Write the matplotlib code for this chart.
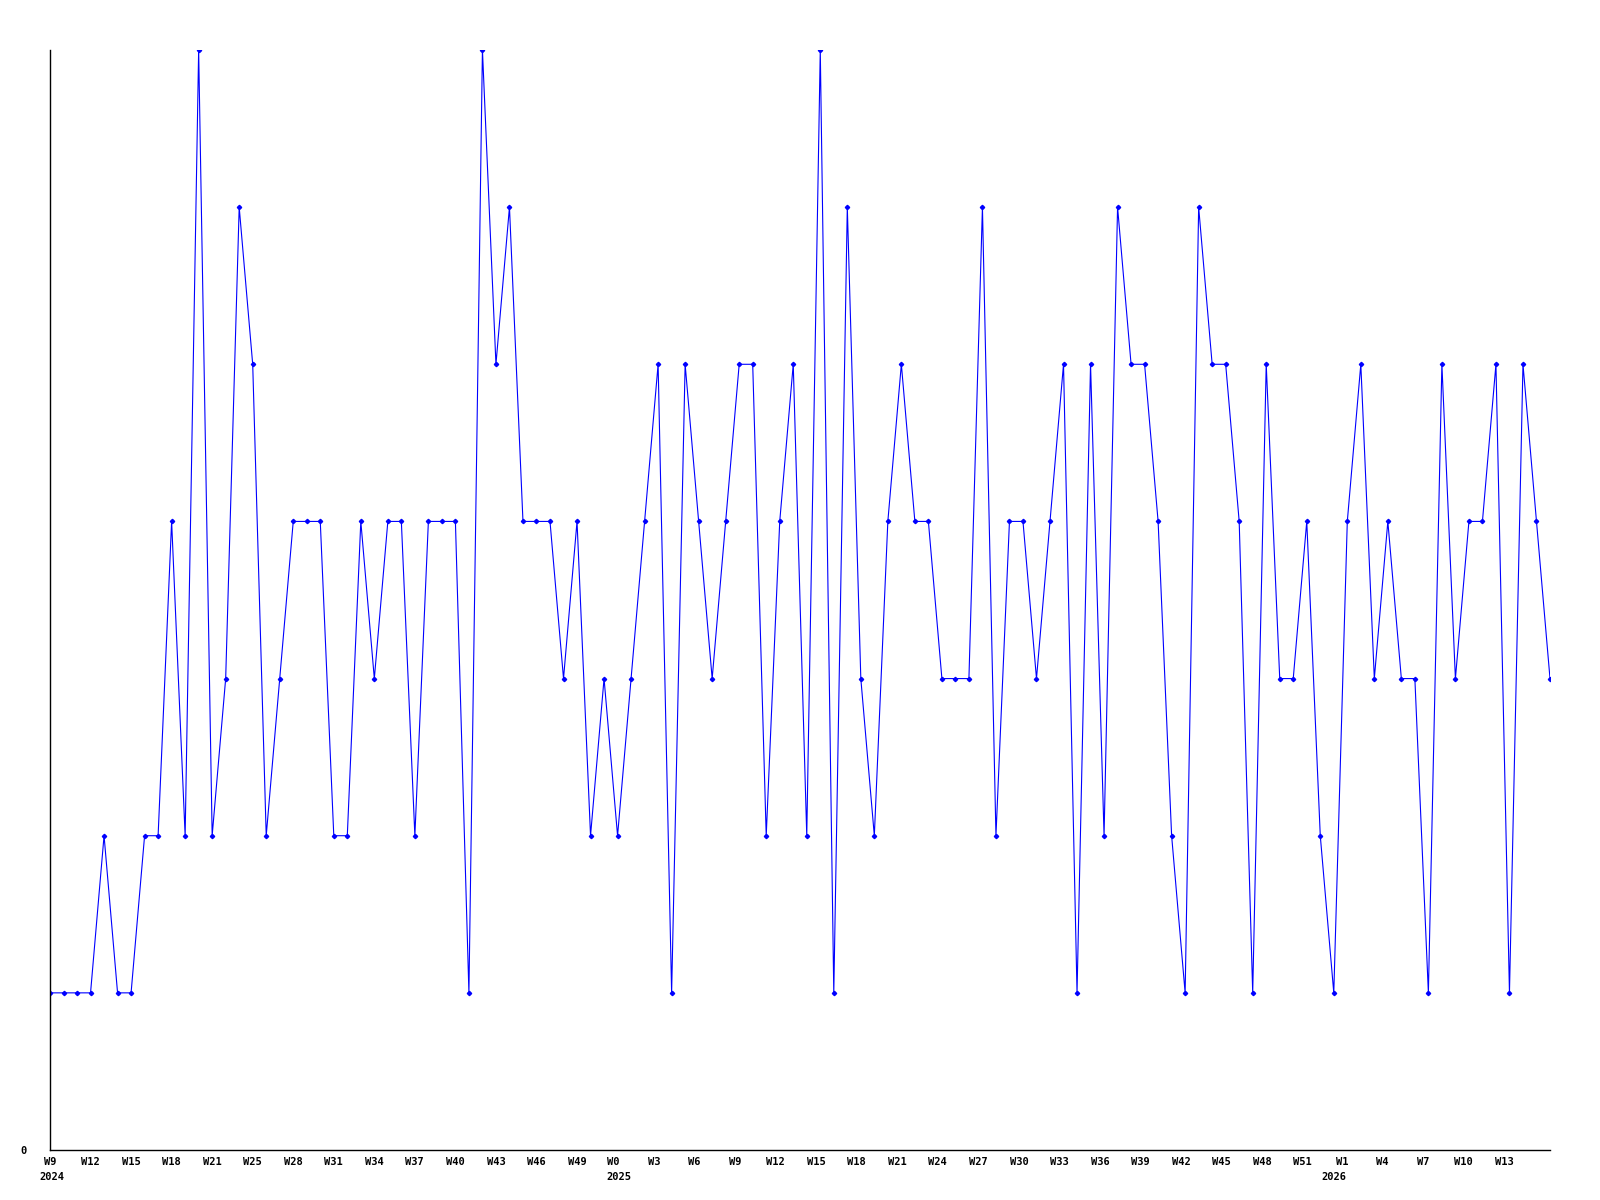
import matplotlib
matplotlib.use('Agg')
import matplotlib.pyplot as plt
import matplotlib.transforms as mtransforms
import numpy as np

# weekly values, one point per week starting at W9 2024
values = [1, 1, 1, 1, 2, 1, 1, 2, 2, 4, 2, 7, 2,
          3, 6, 5, 2, 3, 4, 4, 4, 2, 2, 4, 3, 4, 4, 2,
          4, 4, 4, 1, 7, 5, 6, 4, 4, 4, 3, 4, 2, 3, 2,
          3, 4, 5, 1, 5, 4, 3, 4, 5, 5, 2, 4, 5, 2, 7,
          1, 6, 3, 2, 4, 5, 4, 4, 3, 3, 3, 6, 2, 4,
          4, 3, 4, 5, 1, 5, 2, 6, 5, 5, 4, 2, 1, 6, 5,
          5, 4, 1, 5, 3, 3, 4, 2, 1, 4, 5, 3, 4, 3, 3,
          1, 5, 3, 4, 4, 5, 1, 5, 4, 3]

# week tick labels and where they sit (in week-index units)
tick_labels = ['W9', 'W12', 'W15', 'W18', 'W21', 'W25', 'W28', 'W31', 'W34',
               'W37', 'W40', 'W43', 'W46', 'W49',
               'W0', 'W3', 'W6', 'W9', 'W12', 'W15', 'W18', 'W21', 'W24',
               'W27', 'W30', 'W33', 'W36', 'W39', 'W42', 'W45', 'W48', 'W51',
               'W1', 'W4', 'W7', 'W10', 'W13']
tick_pos = [0, 3, 6, 9, 12, 15, 18, 21, 24, 27, 30, 33, 36, 39,
            41.7, 44.7, 47.7, 50.7, 53.7, 56.7, 59.7, 62.7, 65.7,
            68.7, 71.7, 74.7, 77.7, 80.7, 83.7, 86.7, 89.7, 92.7,
            95.6, 98.6, 101.6, 104.6, 107.6]

# year labels (left edge, week-index units)
years = ['2024', '2025', '2026']
year_pos = [-0.75, 41.15, 94.05]

x = np.arange(len(values))

fig = plt.figure(figsize=(16, 12), dpi=100)
ax = fig.add_axes([50 / 1600, 1 - 1150 / 1200, 1500 / 1600, 1100 / 1200])

ax.plot(x, values, color='#0000ff', lw=0.8, marker='D', ms=2.2,
        mec='#0000ff', mfc='#0000ff')

ax.set_xlim(0, len(values) - 1)
ax.set_ylim(0, 7)

font = dict(family='DejaVu Sans Mono', weight='bold', size=7.5)

ax.set_xticks(tick_pos)
ax.set_xticklabels(tick_labels, **font)
ax.set_yticks([0])
ax.set_yticklabels(['0'], **font)
ax.tick_params(axis='x', length=0, pad=5)
ax.tick_params(axis='y', length=0, pad=17)

for sp in ['top', 'right']:
    ax.spines[sp].set_visible(False)
for sp in ['left', 'bottom']:
    ax.spines[sp].set_linewidth(1.0)
    ax.spines[sp].set_color('black')

blend = mtransforms.blended_transform_factory(ax.transData, ax.transAxes)
tr = mtransforms.offset_copy(blend, fig=fig, x=0, y=-16, units='points')
for yr, xp in zip(years, year_pos):
    ax.text(xp, 0, yr, transform=tr, ha='left', va='top', clip_on=False, **font)

fig.savefig('out.png', dpi=100)
